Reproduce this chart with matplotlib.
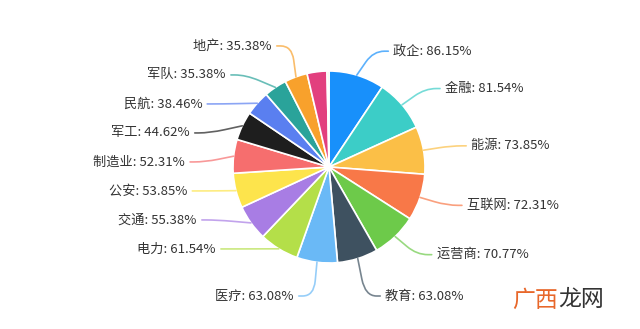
import numpy as np
import matplotlib
matplotlib.use('Agg')
import matplotlib.pyplot as plt
from matplotlib.path import Path
from matplotlib.patches import PathPatch

plt.rcParams['font.family'] = ['Noto Sans CJK SC', 'DejaVu Sans']

# data (percent of respondents per industry); last two slices carry no label
names = ['政企', '金融', '能源', '互联网', '运营商', '教育', '医疗', '电力', '交通',
         '公安', '制造业', '军工', '民航', '军队', '地产', '', '']
values = [86.15, 81.54, 73.85, 72.31, 70.77, 63.08, 63.08, 61.54, 55.38,
          53.85, 52.31, 44.62, 38.46, 35.38, 35.38, 30.77, 3.08]
colors = ['#1890fb', '#3ccdc7', '#fbbf47', '#f87848', '#6dca4a', '#3e5160', '#6ab9f6',
          '#b4df49', '#a87de4', '#fde44c', '#f66e6e', '#1e1e1e', '#5a7ff0', '#2aa39a',
          '#f8a12c', '#e23f7e', '#dcecb0']

W, H = 640, 329
fig = plt.figure(figsize=(W / 100, H / 100), dpi=100)
ax = fig.add_axes([0, 0, 1, 1])

cx, cy, R = 329, 162, 96
ax.pie(values, colors=colors, startangle=90, counterclock=False, center=(cx, cy),
       radius=R, wedgeprops=dict(edgecolor='white', linewidth=1.2), frame=True)
ax.set_xlim(0, W)
ax.set_ylim(0, H)
ax.set_aspect('equal')
ax.axis('off')

# label layout
L1, L2, gap, G = 25, 15, 5, 29
Rl = R + L1
Rx = 124
vals = np.array(values)
cum = np.cumsum(vals) / vals.sum() * 360
mids = np.radians(cum - vals / vals.sum() * 360 / 2)

labels = []
for i, nm in enumerate(names):
    if not nm:
        continue
    th = mids[i]
    side = 1 if np.sin(th) > 0 else -1
    bottom = abs(np.degrees(th) - 180) < 25
    y = cy - Rl - 8 if bottom else cy + Rl * np.cos(th)
    labels.append(dict(i=i, th=th, side=side, bottom=bottom, y=y))

for side in (1, -1):
    grp = [l for l in labels if l['side'] == side and not l['bottom']]
    grp.sort(key=lambda l: -l['y'])
    ys = [l['y'] for l in grp]
    if any(ys[k] - ys[k + 1] < G for k in range(len(ys) - 1)):
        m = np.mean(ys)
        n = len(ys)
        for k, l in enumerate(grp):
            l['y'] = m + (n - 1) / 2 * G - k * G

def leader(p0, p1, p2, color):
    p0, p1, p2 = map(np.array, (p0, p1, p2))
    a = p1 + (p0 - p1) * 0.45
    b = p1 + (p2 - p1) * 0.75
    verts = [p0, a, p1, b, p2]
    codes = [Path.MOVETO, Path.LINETO, Path.CURVE3, Path.CURVE3, Path.LINETO]
    ax.add_patch(PathPatch(Path(verts, codes), fill=False, edgecolor=color,
                           lw=1.2, alpha=0.7, capstyle='round'))

for l in labels:
    i, th, s, y = l['i'], l['th'], l['side'], l['y']
    p0 = (cx + R * np.sin(th), cy + R * np.cos(th))
    if l['bottom']:
        ex = cx + Rl * np.sin(th)
    else:
        dy = y - cy
        dx = np.sqrt(max(Rx ** 2 - dy ** 2, (0.3 * Rx) ** 2))
        ex = cx + s * dx
    p1 = (ex, y)
    p2 = (ex + s * L2, y)
    leader(p0, p1, p2, colors[i])
    ax.text(p2[0] + s * gap, y, f'{names[i]}: {values[i]:.2f}%', fontsize=9.5,
            color='#333333', ha='left' if s > 0 else 'right', va='center')

# watermark
ax.text(512, 29, '广西', fontsize=16.5, color='#e8672a', ha='left', va='center', fontweight='light')
ax.text(558, 29, '龙网', fontsize=16.5, color='#333333', ha='left', va='center', fontweight='light')

fig.savefig('out.png', dpi=100, facecolor='white')
